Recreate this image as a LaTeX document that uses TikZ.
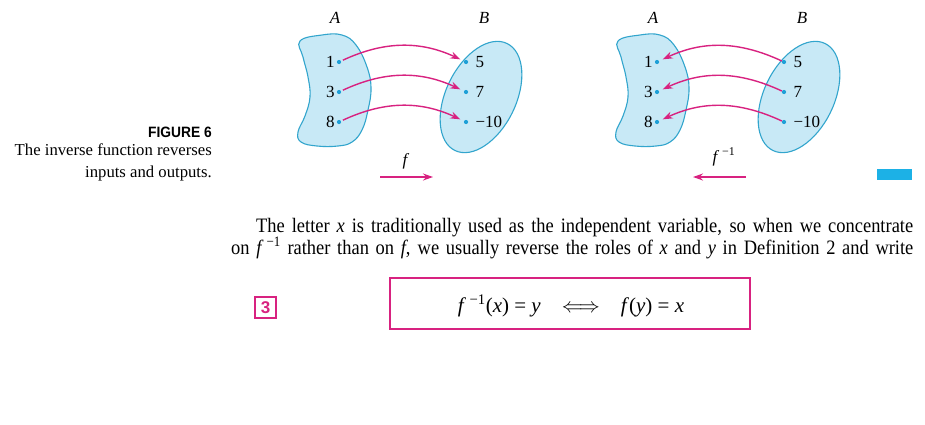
\documentclass[tikz,border=0pt]{standalone}
\usepackage{fontspec}
\setmainfont{Liberation Serif}
\setsansfont{Liberation Sans}
\usetikzlibrary{arrows.meta}
\definecolor{mag}{RGB}{216,34,128}
\definecolor{blobfill}{RGB}{200,233,246}
\definecolor{blobline}{RGB}{50,165,205}
\definecolor{dotcol}{RGB}{30,160,215}
\definecolor{barcol}{RGB}{28,177,230}
\tikzset{
  blob/.style={fill=blobfill, draw=blobline, line width=1.1pt},
  dot/.style={circle, fill=dotcol, inner sep=0pt, minimum size=4.2pt},
  num/.style={font=\fontsize{17}{17}\selectfont, inner sep=0pt},
  setlab/.style={font=\fontsize{17}{17}\selectfont\itshape, inner sep=0pt},
  fun/.style={draw=mag, line width=1.4pt, -{Stealth[length=10pt,width=7pt]}},
  magbox/.style={draw=mag, line width=1.6pt},
  bodytext/.style={font=\fontsize{20.5}{22}\selectfont, inner sep=0pt},
  captext/.style={anchor=base east, inner sep=0pt, font=\fontsize{16.7}{16.7}\selectfont}
}
\begin{document}
\begin{tikzpicture}[x=1pt,y=-1pt]
\useasboundingbox (0,0) rectangle (925,424);
\fill[white] (0,0) rectangle (925,424);

\foreach \s/\p in {0/L,318/R}{
  \begin{scope}[shift={(\s,0)}]
    \draw[blob] plot[smooth cycle, tension=0.7] coordinates {(300,41) (322,35) (342,35) (356,45) (367,67) (371,88) (368,110) (362,130) (352,142) (338,146) (317,146) (301,142) (298,132) (305,116) (310,97) (308,77) (303,57)};
    \draw[blob, shift={(481,97)}, rotate=-26] (0,0) ellipse [x radius=35, y radius=59.5];
    \node[dot] (a1\p) at (339,62) {};
    \node[dot] (a3\p) at (339,92) {};
    \node[dot] (a8\p) at (339,122) {};
    \node[dot] (b5\p) at (466,62) {};
    \node[dot] (b7\p) at (466,92) {};
    \node[dot] (b10\p) at (466,122) {};
    \node[num, anchor=east] (n1\p) at ([xshift=-2pt]a1\p.west) {1};
    \node[num, anchor=east] (n3\p) at ([xshift=-2pt]a3\p.west) {3};
    \node[num, anchor=east] (n8\p) at ([xshift=-2pt]a8\p.west) {8};
    \node[num, anchor=west] (n5\p) at ([xshift=7pt]b5\p.east) {5};
    \node[num, anchor=west] (n7\p) at ([xshift=7pt]b7\p.east) {7};
    \node[num, anchor=west] (n10\p) at ([xshift=7pt]b10\p.east) {\char"2212 10};
    \node[setlab] (A\p) at (335,18) {A};
    \node[setlab] (B\p) at (484,18) {B};
  \end{scope}
}

% f arrows
\draw[fun, shorten <=2pt, shorten >=4pt] (a1L) to[bend left=25] (b5L);
\draw[fun, shorten <=2pt, shorten >=4pt] (a3L) to[bend left=25] (b7L);
\draw[fun, shorten <=2pt, shorten >=4pt] (a8L) to[bend left=25] (b10L);
% inverse arrows
\draw[fun, shorten <=0pt, shorten >=4pt] (b5R) to[bend right=25] (a1R);
\draw[fun, shorten <=0pt, shorten >=4pt] (b7R) to[bend right=25] (a3R);
\draw[fun, shorten <=0pt, shorten >=4pt] (b10R) to[bend right=25] (a8R);

% function labels and direction arrows
\node[setlab] (flab) at (405,161) {f};
\coordinate (fs) at (380,177);
\coordinate (fe) at (433,177);
\draw[fun] (fs) -- (fe);
\node[setlab, font=\fontsize{17}{17}\selectfont] (finvlab) at (724,157) {\textit{f}\,\textsuperscript{\char"2212 1}};
\coordinate (gs) at (746,177);
\coordinate (ge) at (693,177);
\draw[fun] (gs) -- (ge);

% caption
\node[anchor=base east, inner sep=0pt, font=\sffamily\bfseries\fontsize{15}{15}\selectfont] (figlab) at (212,137) {\scalebox{0.92}[1]{FIGURE 6}};
\node[captext] (cap1) at (212,155) {The inverse function reverses};
\node[captext] (cap2) at (212,177) {inputs and outputs.};

% blue bar
\fill[barcol] (877,169) rectangle (912,180);

% body text
\node[bodytext, anchor=base west] (line1) at (256,232) {\scalebox{0.9}[1]{\makebox[730pt][s]{The letter \textit{x} is traditionally used as the independent variable, so when we concentrate}}};
\node[bodytext, anchor=base west] (line2) at (231,254) {\scalebox{0.9}[1]{\makebox[758pt][s]{on \textit{f}\,\textsuperscript{\char"2212 1} rather than on \textit{f}, we usually reverse the roles of \textit{x} and \textit{y} in Definition 2 and write}}};

% numbered equation
\node[magbox, minimum width=21pt, minimum height=21pt, inner sep=0pt, text=mag, font=\sffamily\bfseries\fontsize{17}{17}\selectfont] (num3) at (265.5,307.5) {3};
\draw[magbox] (390,278) rectangle (750,329);
\node[inner sep=0pt, font=\fontsize{21}{21}\selectfont] (eq) at (571,306) {\textit{f}\,\textsuperscript{\char"2212 1}(\textit{x}) = \textit{y}\quad $\Longleftrightarrow$\quad \textit{f}(\textit{y}) = \textit{x}};
\end{tikzpicture}
\end{document}
